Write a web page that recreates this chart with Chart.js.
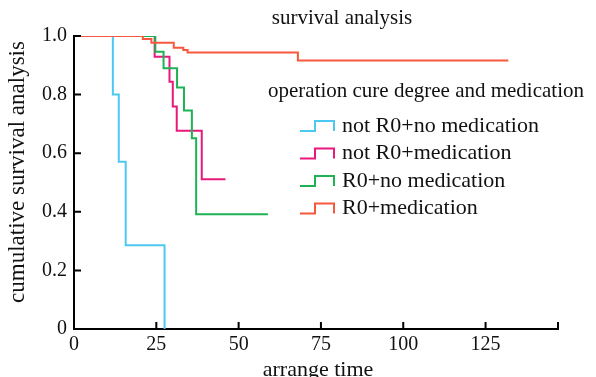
<!DOCTYPE html>
<html>
<head>
<meta charset="utf-8">
<script src="https://cdn.jsdelivr.net/npm/chart.js@4.4.1/dist/chart.umd.min.js"></script>
<style>
  html, body { margin: 0; padding: 0; background: #fff; }
  #wrap { width: 596px; height: 377px; position: relative; }
</style>
</head>
<body>
<div id="wrap"><canvas id="km" width="596" height="377"></canvas></div>
<script>
// Kaplan-Meier curves: time of each drop, survival after it
const groupLabels = ["not R0+no medication", "not R0+medication", "R0+no medication", "R0+medication"];

const notR0NoMedTime = [0, 11.8, 13.6, 15.7, 27.5];
const notR0NoMedSurv = [1, 0.8, 0.571, 0.286, 0];

const notR0MedTime = [0, 24.5, 29.0, 30.0, 31.2, 38.8, 46.0];
const notR0MedSurv = [1, 0.929, 0.844, 0.759, 0.677, 0.511, 0.511];

const r0NoMedTime = [0, 24.7, 27.2, 31.3, 33.4, 35.8, 37.1, 58.9];
const r0NoMedSurv = [1, 0.946, 0.890, 0.824, 0.746, 0.651, 0.392, 0.392];

const r0MedTime = [0, 20.9, 23.5, 30.3, 33.2, 34.5, 68.0, 131.9];
const r0MedSurv = [1, 0.99, 0.977, 0.96, 0.952, 0.944, 0.916, 0.916];

const xTicks = [0, 25, 50, 75, 100, 125];
const yTicks = [0, 0.2, 0.4, 0.6, 0.8, 1.0];

const colors = ["#4dc8f2", "#e8187c", "#1fb255", "#f5583c"];
const FONT = "'Liberation Serif', 'Times New Roman', serif";

function toPoints(t, s) {
    return t.map((v, i) => ({ x: v, y: s[i] }));
}

const series = [
    toPoints(notR0NoMedTime, notR0NoMedSurv),
    toPoints(notR0MedTime, notR0MedSurv),
    toPoints(r0NoMedTime, r0NoMedSurv),
    toPoints(r0MedTime, r0MedSurv)
];
const drawOrder = [3, 2, 1, 0]; // red on top

// titles, legend and inward tick marks
const extras = {
    id: "extras",
    afterDraw(chart) {
        const ctx = chart.ctx;
        const xs = chart.scales.x, ys = chart.scales.y;
        const area = chart.chartArea;
        ctx.save();
        ctx.strokeStyle = "#000";
        ctx.lineWidth = 2;
        ctx.beginPath();
        xTicks.concat([xs.max]).forEach(v => {
            const px = xs.getPixelForValue(v);
            ctx.moveTo(px, area.bottom);
            ctx.lineTo(px, area.bottom - 7);
        });
        yTicks.forEach(v => {
            const py = ys.getPixelForValue(v);
            ctx.moveTo(area.left, py);
            ctx.lineTo(area.left + 7, py);
        });
        ctx.stroke();

        ctx.fillStyle = "#111";
        ctx.textBaseline = "middle";
        ctx.textAlign = "center";
        ctx.font = "21px " + FONT;
        ctx.fillText("survival analysis", 342, 18);

        ctx.font = "22px " + FONT;
        ctx.fillText("arrange time", 318, 370);

        ctx.save();
        ctx.translate(18, 172);
        ctx.rotate(-Math.PI / 2);
        ctx.font = "23px " + FONT;
        ctx.fillText("cumulative survival analysis", 0, 0);
        ctx.restore();

        ctx.textAlign = "left";
        ctx.font = "21px " + FONT;
        ctx.fillText("operation cure degree and medication", 268, 91);

        ctx.font = "22px " + FONT;
        chart.data.datasets.forEach((ds, i) => {
            const cy = 126 + i * 27.5;
            ctx.strokeStyle = ds.borderColor;
            ctx.lineWidth = 2;
            ctx.beginPath();
            ctx.moveTo(300, cy + 5);
            ctx.lineTo(315, cy + 5);
            ctx.lineTo(315, cy - 5);
            ctx.lineTo(334, cy - 5);
            ctx.lineTo(334, cy + 5);
            ctx.stroke();
            ctx.fillStyle = "#111";
            ctx.fillText(ds.label, 342, cy);
        });
        ctx.restore();
    }
};

new Chart(document.getElementById("km"), {
    type: "line",
    data: {
        datasets: series.map((pts, i) => ({
            label: groupLabels[i],
            data: pts,
            borderColor: colors[i],
            borderWidth: 2,
            stepped: "before",
            pointRadius: 0,
            fill: false,
            order: drawOrder[i]
        }))
    },
    options: {
        responsive: false,
        animation: false,
        devicePixelRatio: 1,
        layout: { padding: { top: 36, right: 38, left: 0, bottom: 0 } },
        plugins: { legend: { display: false }, tooltip: { enabled: false }, title: { display: false } },
        scales: {
            x: {
                type: "linear",
                min: 0,
                max: 147,
                afterFit: s => { s.height = 48; },
                afterBuildTicks: s => { s.ticks = xTicks.map(v => ({ value: v })); },
                grid: { display: false, drawTicks: false },
                border: { display: true, color: "#000", width: 2 },
                ticks: { color: "#111", padding: 4, font: { family: FONT, size: 20 }, maxRotation: 0 }
            },
            y: {
                min: 0,
                max: 1,
                afterFit: s => { s.width = 74; },
                afterBuildTicks: s => { s.ticks = yTicks.map(v => ({ value: v })); },
                grid: { display: false, drawTicks: false },
                border: { display: true, color: "#000", width: 2 },
                ticks: {
                    color: "#111",
                    padding: 7,
                    font: { family: FONT, size: 20 },
                    callback: v => v === 0 ? "0" : v.toFixed(1)
                }
            }
        }
    },
    plugins: [extras]
});
</script>
</body>
</html>
